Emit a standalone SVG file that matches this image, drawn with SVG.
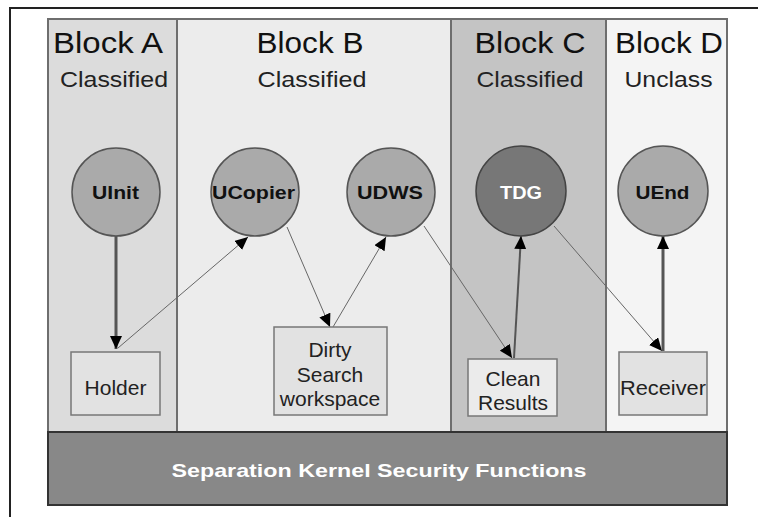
<svg xmlns="http://www.w3.org/2000/svg" width="758" height="517" viewBox="0 0 758 517">
<style>
.frame{fill:none;stroke:#222;stroke-width:2}
.blk{stroke:#6e6e6e;stroke-width:2}
.title{font-family:"Liberation Sans",Arial,sans-serif;font-size:30px;fill:#111;text-anchor:middle}
.sub{font-family:"Liberation Sans",Arial,sans-serif;font-size:22px;fill:#222;text-anchor:middle}
.circ{fill:#aaaaaa;stroke:#555;stroke-width:1.5}
.circd{fill:#777777;stroke:#444;stroke-width:1.5}
.clab{font-family:"Liberation Sans",Arial,sans-serif;font-size:19px;font-weight:bold;fill:#111;text-anchor:middle}
.box{fill:#e2e2e2;stroke:#777;stroke-width:1.5}
.blab{font-family:"Liberation Sans",Arial,sans-serif;font-size:21px;fill:#222;text-anchor:middle}
.thin{stroke:#666;stroke-width:1;fill:none}
.mid{stroke:#555;stroke-width:2;fill:none}
.thick{stroke:#555;stroke-width:3;fill:none}
</style>
<defs>
<marker id="ah" markerUnits="userSpaceOnUse" markerWidth="14" markerHeight="12" refX="13" refY="6" orient="auto">
<path d="M0,0 L13,6 L0,12 Z" fill="#000"/>
</marker>
</defs>
<rect width="758" height="517" fill="#fff"/>
<rect class="frame" x="10" y="8" width="770" height="540"/>

<g id="blockA">
<rect class="blk" x="48" y="19" width="129" height="413" fill="#dcdcdc"/>
<text class="title" x="108" y="53" textLength="110" lengthAdjust="spacingAndGlyphs">Block A</text>
<text class="sub" x="114" y="87" textLength="108" lengthAdjust="spacingAndGlyphs">Classified</text>
</g>
<g id="blockB">
<rect class="blk" x="177" y="19" width="274" height="413" fill="#ececec"/>
<text class="title" x="310" y="53" textLength="107" lengthAdjust="spacingAndGlyphs">Block B</text>
<text class="sub" x="312" y="87" textLength="109" lengthAdjust="spacingAndGlyphs">Classified</text>
</g>
<g id="blockC">
<rect class="blk" x="451" y="19" width="155" height="413" fill="#c4c4c4"/>
<text class="title" x="530" y="53" textLength="111" lengthAdjust="spacingAndGlyphs">Block C</text>
<text class="sub" x="530" y="87" textLength="107" lengthAdjust="spacingAndGlyphs">Classified</text>
</g>
<g id="blockD">
<rect class="blk" x="606" y="19" width="121" height="413" fill="#f4f4f4"/>
<text class="title" x="669" y="53" textLength="108" lengthAdjust="spacingAndGlyphs">Block D</text>
<text class="sub" x="668.5" y="87" textLength="88" lengthAdjust="spacingAndGlyphs">Unclass</text>
</g>
<g id="kernel">
<rect x="48" y="432" width="679" height="73" fill="#888888" stroke="#333" stroke-width="2"/>
<text x="379" y="477" font-family="'Liberation Sans',Arial,sans-serif" font-size="19" font-weight="bold" fill="#fff" text-anchor="middle" textLength="415" lengthAdjust="spacingAndGlyphs">Separation Kernel Security Functions</text>
</g>

<g id="connectors">
<line class="thick" x1="116" y1="236" x2="116" y2="349" marker-end="url(#ah)"/>
<line class="thin" x1="118" y1="348" x2="248" y2="237" marker-end="url(#ah)"/>
<line class="thin" x1="287" y1="227" x2="330" y2="327" marker-end="url(#ah)"/>
<line class="thin" x1="333" y1="327" x2="386" y2="237" marker-end="url(#ah)"/>
<line class="thin" x1="424" y1="226" x2="512" y2="358" marker-end="url(#ah)"/>
<line class="mid" x1="514" y1="358" x2="521" y2="236" marker-end="url(#ah)"/>
<line class="thin" x1="554" y1="226" x2="662" y2="351" marker-end="url(#ah)"/>
<line class="thick" x1="663" y1="351" x2="663" y2="236" marker-end="url(#ah)"/>
</g>

<g id="UInit">
<circle class="circ" cx="116" cy="192" r="44"/>
<text class="clab" x="115.5" y="199" textLength="47" lengthAdjust="spacingAndGlyphs">UInit</text>
</g>
<g id="UCopier">
<circle class="circ" cx="255" cy="192" r="44"/>
<text class="clab" x="253.5" y="199" textLength="83" lengthAdjust="spacingAndGlyphs">UCopier</text>
</g>
<g id="UDWS">
<circle class="circ" cx="391" cy="192" r="44"/>
<text class="clab" x="390" y="199" textLength="66" lengthAdjust="spacingAndGlyphs">UDWS</text>
</g>
<g id="TDG">
<circle class="circd" cx="521" cy="191" r="45"/>
<text class="clab" x="521" y="199" fill="#fff" style="fill:#fff" textLength="42" lengthAdjust="spacingAndGlyphs">TDG</text>
</g>
<g id="UEnd">
<circle class="circ" cx="663" cy="191" r="45"/>
<text class="clab" x="662.5" y="199" textLength="54" lengthAdjust="spacingAndGlyphs">UEnd</text>
</g>

<g id="Holder">
<rect class="box" x="71" y="352" width="89" height="63"/>
<text class="blab" x="115.5" y="395">Holder</text>
</g>
<g id="Dirty">
<rect class="box" x="274" y="327" width="113" height="88"/>
<text class="blab" x="330" y="357">Dirty</text>
<text class="blab" x="330" y="382">Search</text>
<text class="blab" x="330" y="406">workspace</text>
</g>
<g id="Clean">
<rect class="box" x="468" y="359" width="89" height="57" fill="#ebebeb" style="fill:#ebebeb"/>
<text class="blab" x="513" y="386">Clean</text>
<text class="blab" x="513" y="410">Results</text>
</g>
<g id="Receiver">
<rect class="box" x="619" y="352" width="88" height="63"/>
<text class="blab" x="663" y="395" textLength="86" lengthAdjust="spacingAndGlyphs">Receiver</text>
</g>
</svg>
